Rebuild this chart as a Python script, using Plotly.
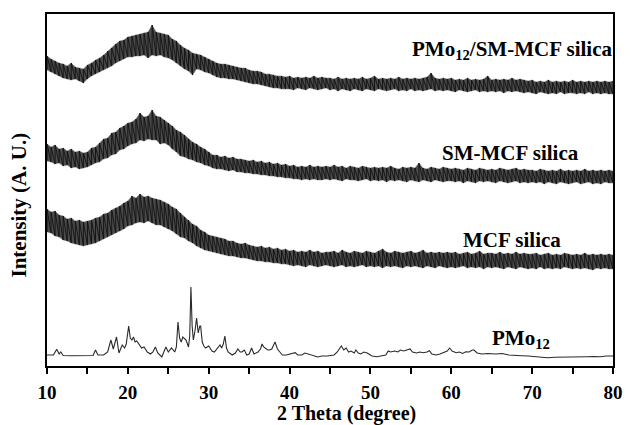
import plotly.graph_objects as go

# 2-theta sampling grid (0.5 degree steps) for envelope of noisy patterns
two_theta = [10 + 0.5 * i for i in range(141)]

# PMo12/SM-MCF silica: upper / lower envelope of noisy band (arb. units)
top_upper = [310, 307, 305, 303, 302, 300, 303, 299, 298, 297,
             301, 303, 306, 308, 311, 315, 318, 322, 325, 326,
             329, 330, 331, 332, 333, 334, 341, 334, 333, 332,
             331, 327, 325, 321, 318, 316, 313, 312, 311, 309,
             307, 305, 303, 302, 302, 301, 300, 299, 298, 298,
             296, 295, 295, 294, 292, 292, 291, 290, 290, 289,
             290, 288, 289, 288, 289, 288, 290, 288, 289, 288,
             288, 287, 289, 287, 288, 287, 288, 287, 289, 287,
             288, 290, 287, 288, 287, 288, 287, 289, 287, 288,
             287, 288, 287, 288, 289, 293, 288, 287, 288, 287,
             288, 286, 287, 286, 288, 286, 287, 286, 287, 290,
             286, 287, 286, 287, 286, 288, 286, 287, 286, 285,
             286, 284, 285, 284, 286, 284, 285, 284, 285, 284,
             286, 284, 285, 284, 285, 284, 285, 284, 285, 284,
             285]
top_lower = [296, 294, 292, 290, 288, 287, 286, 287, 285, 283,
             287, 290, 292, 294, 296, 298, 300, 303, 305, 307,
             309, 309, 310, 310, 311, 308, 311, 310, 311, 309,
             308, 306, 303, 300, 297, 295, 291, 297, 296, 294,
             293, 291, 289, 288, 288, 287, 287, 286, 285, 284,
             283, 282, 282, 281, 280, 279, 278, 278, 277, 277,
             277, 276, 278, 277, 276, 278, 277, 276, 277, 278,
             276, 277, 275, 277, 276, 275, 277, 276, 275, 277,
             276, 275, 277, 276, 275, 276, 277, 275, 276, 275,
             277, 275, 276, 275, 276, 277, 275, 276, 275, 276,
             275, 274, 276, 275, 274, 275, 276, 274, 275, 274,
             275, 274, 275, 273, 275, 274, 275, 274, 273, 274,
             273, 272, 274, 273, 272, 273, 272, 274, 272, 273,
             273, 272, 273, 272, 274, 272, 273, 272, 273, 272,
             272]

# SM-MCF silica
mid_upper = [222, 219, 221, 217, 218, 215, 217, 214, 215, 213,
             214, 218, 219, 223, 227, 228, 233, 234, 238, 240,
             243, 244, 247, 253, 249, 250, 256, 250, 249, 246,
             243, 240, 236, 234, 231, 227, 224, 222, 219, 217,
             214, 211, 211, 209, 210, 208, 209, 207, 207, 206,
             205, 206, 204, 205, 203, 204, 202, 203, 201, 202,
             200, 201, 199, 200, 199, 201, 199, 200, 199, 200,
             199, 201, 199, 200, 198, 200, 199, 198, 200, 199,
             198, 199, 198, 199, 198, 200, 198, 197, 199, 198,
             199, 198, 203, 198, 197, 199, 198, 197, 199, 198,
             197, 198, 197, 196, 198, 197, 196, 198, 197, 196,
             197, 196, 198, 197, 196, 197, 198, 196, 197, 196,
             196, 195, 197, 196, 195, 196, 195, 197, 195, 196,
             195, 196, 195, 197, 195, 196, 195, 196, 195, 196,
             195]
mid_lower = [205, 204, 202, 203, 200, 201, 198, 199, 197, 198,
             199, 201, 203, 204, 207, 208, 211, 212, 216, 217,
             220, 222, 223, 226, 225, 227, 226, 226, 222, 223,
             221, 217, 214, 210, 209, 207, 206, 204, 203, 201,
             200, 198, 197, 197, 196, 195, 196, 194, 194, 193,
             193, 192, 192, 191, 191, 190, 190, 189, 189, 188,
             188, 187, 187, 186, 187, 186, 187, 186, 186, 187,
             186, 187, 186, 185, 187, 186, 186, 185, 186, 187,
             185, 186, 185, 186, 184, 186, 185, 186, 185, 184,
             186, 185, 184, 186, 185, 184, 186, 185, 184, 185,
             185, 184, 185, 183, 185, 184, 183, 185, 184, 185,
             184, 183, 185, 184, 183, 184, 185, 183, 184, 183,
             184, 183, 184, 182, 184, 183, 182, 184, 183, 182,
             183, 184, 182, 183, 184, 182, 183, 182, 184, 183,
             183]

# MCF silica
low_upper = [157, 154, 155, 151, 150, 147, 148, 145, 146, 144,
             145, 146, 148, 149, 152, 153, 156, 158, 160, 163,
             165, 170, 168, 172, 169, 170, 168, 167, 166, 164,
             162, 159, 157, 153, 149, 146, 142, 140, 136, 134,
             131, 130, 129, 128, 127, 125, 125, 123, 122, 123,
             121, 120, 119, 120, 118, 119, 117, 118, 116, 117,
             115, 116, 114, 115, 114, 116, 114, 115, 113, 114,
             114, 115, 113, 116, 114, 113, 115, 114, 113, 115,
             114, 113, 115, 117, 114, 113, 115, 114, 113, 114,
             115, 113, 114, 116, 113, 114, 113, 114, 113, 114,
             113, 114, 112, 113, 114, 112, 113, 115, 112, 113,
             113, 112, 114, 112, 113, 112, 114, 112, 113, 112,
             112, 113, 111, 112, 113, 111, 112, 111, 113, 112,
             111, 112, 111, 113, 111, 112, 111, 112, 111, 112,
             111]
low_lower = [134, 133, 130, 129, 126, 125, 123, 122, 121, 120,
             121, 122, 123, 125, 127, 129, 131, 133, 135, 137,
             140, 141, 143, 144, 143, 145, 143, 141, 141, 139,
             137, 135, 132, 129, 128, 125, 123, 120, 118, 116,
             115, 114, 113, 112, 111, 110, 110, 109, 108, 108,
             107, 106, 105, 105, 104, 104, 103, 103, 102, 102,
             101, 100, 101, 100, 99, 101, 100, 99, 100, 101,
             100, 99, 100, 101, 99, 100, 99, 100, 101, 99,
             100, 99, 100, 98, 100, 99, 100, 99, 98, 100,
             99, 100, 99, 98, 100, 99, 98, 100, 99, 98,
             99, 98, 99, 100, 98, 99, 98, 99, 97, 99,
             98, 99, 98, 97, 99, 98, 97, 99, 98, 97,
             98, 97, 99, 97, 98, 97, 98, 97, 99, 98,
             97, 98, 97, 98, 97, 96, 98, 97, 98, 97,
             97]

# PMo12 crystalline pattern
pmo_x = [10.0, 10.8, 11.2, 11.5, 11.7, 12.0, 13.0, 14.0, 15.0, 15.7, 16.0, 16.3, 17.0, 17.5,
         17.9, 18.2, 18.6, 18.9, 19.3, 19.6, 19.8, 20.1, 20.3, 20.5, 20.7, 20.9, 21.1, 21.3,
         21.5, 21.7, 22.0, 22.2, 22.4, 22.8, 23.1, 23.4, 23.7, 24.2, 24.5, 24.7, 25.0, 25.4,
         25.8, 26.0, 26.2, 26.4, 26.6, 26.8, 27.2, 27.5, 27.65, 27.8, 27.95, 28.1, 28.3, 28.5,
         28.7, 28.9, 29.0, 29.2, 29.4, 29.6, 30.0, 30.2, 30.4, 30.7, 31.0, 31.4, 31.6, 31.8,
         32.0, 32.2, 32.4, 32.9, 33.3, 33.6, 33.9, 34.1, 34.4, 34.7, 35.0, 35.3, 35.6, 35.9,
         36.1, 36.4, 36.6, 36.8, 37.0, 37.3, 37.5, 37.8, 38.2, 38.5, 38.8, 39.1, 39.6, 40.2,
         40.7, 41.0, 41.5, 41.9, 42.3, 42.8, 43.5, 44.0, 44.7, 45.5, 45.9, 46.4, 46.7, 47.0,
         47.3, 47.6, 48.0, 48.2, 48.5, 48.8, 49.2, 49.6, 50.2, 50.8, 51.5, 51.9, 52.2, 52.5,
         53.0, 53.4, 53.7, 54.1, 54.5, 54.9, 55.2, 55.7, 56.1, 56.5, 57.0, 57.3, 57.6, 58.1,
         58.6, 59.1, 59.5, 59.8, 60.1, 60.6, 61.0, 61.4, 61.8, 62.2, 62.6, 62.8, 63.2, 63.8,
         64.5, 65.5, 66.3, 67.1, 68.0, 68.7, 69.5, 70.3, 71.0, 71.9, 72.8, 73.5, 74.5, 75.2,
         76.0, 76.8, 77.6, 78.4, 79.2, 80.0]
pmo_y = [11, 11, 16.7, 12, 14, 10.5, 10.3, 10.5, 10.3, 10.5, 16, 11, 11, 14,
         26, 17, 29, 13, 21, 18, 22, 40, 28, 26, 29, 24, 25, 23,
         21, 18, 19, 16, 14, 12, 14, 19, 13, 9, 14, 19, 14, 18,
         14, 19, 44, 28, 24, 29, 26, 19, 30, 79, 40, 26, 35, 48,
         33, 40, 40, 24, 20, 18, 20, 17, 15, 14, 17, 21, 18, 22,
         30, 18, 14, 11, 13, 17, 14, 14, 16, 11, 12, 18, 12, 13,
         14, 17, 22, 19, 18, 16, 16, 17, 24, 17, 14, 11, 11, 12,
         13.3, 11, 11, 13, 12, 11, 9, 10, 10, 11, 14, 20, 16, 18,
         14, 15, 13, 16, 13, 12, 14, 13, 10, 9.3, 10, 11, 15, 14,
         15, 14, 16, 15, 16, 17, 14, 13, 14, 13.3, 14, 15.3, 12, 11,
         12, 13.3, 15, 18, 15, 13.3, 14, 12.5, 14.3, 14, 16, 16, 13, 12,
         12.5, 12, 12.5, 11, 11, 10.3, 10, 9.3, 8.5, 8.3, 8.7, 8.7, 9, 8.7,
         9.3, 9.3, 9.5, 9.3, 10, 10]

x_ticks = [10, 20, 30, 40, 50, 60, 70, 80]
labels = ["PMo<sub>12</sub>/SM-MCF silica", "SM-MCF silica", "MCF silica", "PMo<sub>12</sub>"]
# right edge of each label (paper fraction of the plot width) and vertical centre (data units)
label_xpaper = [1.0026, 0.9436, 0.9123, 0.8915]
label_y = [316, 213, 126, 27]

FONT = "Liberation Serif"
fig = go.Figure()

for up, lo in [(top_upper, top_lower), (mid_upper, mid_lower), (low_upper, low_lower)]:
    # grey envelope band
    fig.add_trace(go.Scatter(x=two_theta, y=lo, mode="lines",
                             line=dict(color="#8a8a8a", width=0.6), showlegend=False,
                             hoverinfo="skip"))
    fig.add_trace(go.Scatter(x=two_theta, y=up, mode="lines", fill="tonexty",
                             fillcolor="#4a4a4a",
                             line=dict(color="#8a8a8a", width=0.6), showlegend=False,
                             hoverinfo="skip"))
    # noise strokes running between the envelope limits at each sample
    zx, zy = [], []
    for xv, u, l in zip(two_theta, up, lo):
        zx += [xv, xv]
        zy += [l, u]
    fig.add_trace(go.Scatter(x=zx, y=zy, mode="lines",
                             line=dict(color="#111111", width=0.9), showlegend=False,
                             hoverinfo="skip"))

fig.add_trace(go.Scatter(x=pmo_x, y=pmo_y, mode="lines",
                         line=dict(color="#2a2a2a", width=1.1), showlegend=False))

for t, lx, ly in zip(labels, label_xpaper, label_y):
    fig.add_annotation(x=lx, y=ly, xref="paper", yref="y", text=t, showarrow=False,
                       xanchor="right", yanchor="middle",
                       font=dict(family=FONT, size=21, color="black", weight="bold"))

fig.add_annotation(x=(352 - 47) / 576, y=(366 - 414) / 352, xref="paper", yref="paper",
                   text="2 Theta (degree)", showarrow=False, xanchor="center", yanchor="middle",
                   font=dict(family=FONT, size=20, color="black", weight="bold"))
fig.add_annotation(x=(19 - 47) / 576, y=(366 - 205) / 352, xref="paper", yref="paper",
                   text="Intensity (A. U.)", showarrow=False, textangle=-90,
                   xanchor="center", yanchor="middle",
                   font=dict(family=FONT, size=21, color="black", weight="bold"))

fig.update_layout(
    width=630, height=425,
    margin=dict(l=47, r=7, t=14, b=59),
    paper_bgcolor="white", plot_bgcolor="white",
    xaxis=dict(range=[10, 80], tickvals=x_ticks, ticks="outside", ticklen=6, tickwidth=2,
               tickcolor="black", showline=True, linecolor="black", linewidth=2, mirror=True,
               showgrid=False, zeroline=False,
               minor=dict(dtick=5, ticks="outside", ticklen=6, tickwidth=2, tickcolor="black"),
               tickfont=dict(family=FONT, size=19, color="black", weight="bold"),
               ticklabelstandoff=2, ticklabeloverflow="allow"),
    yaxis=dict(range=[0, 352], showticklabels=False, ticks="", showline=True,
               linecolor="black", linewidth=2, mirror=True, showgrid=False, zeroline=False),
)

fig.write_html("out.html")
